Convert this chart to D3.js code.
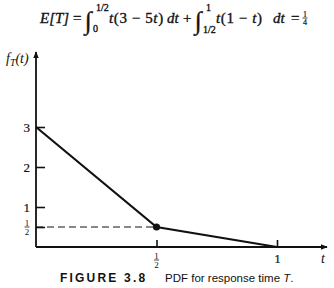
<!DOCTYPE html>
<html>
<head>
<meta charset="utf-8">
<script src="https://cdn.jsdelivr.net/npm/d3@7"></script>
<style>
  body { margin: 0; background: #fff; }
  svg { display: block; }
  .axis path, .axis line { stroke: #111; stroke-width: 1.6; }
</style>
</head>
<body>
<svg id="chart" width="334" height="288"></svg>
<script>
// pdf vertices (t, f_T(t))
var pdfPoints = [
  {t: 0, f: 3},
  {t: 0.5, f: 0.5},
  {t: 1, f: 0}
];
var markedPoint = {t: 0.5, f: 0.5};
var yTicks = [0.5, 1, 2, 3];
var xTicks = [0.5, 1];

var serif = "'Liberation Serif', 'Times New Roman', 'DejaVu Serif', serif";
var svg = d3.select("#chart");

var x = d3.scaleLinear().domain([0, 1]).range([36, 277]),
    y = d3.scaleLinear().domain([0, 3]).range([247, 127]);

// axes (ticks point inward)
var xAxis = svg.append("g")
    .attr("class", "axis")
    .attr("transform", "translate(0," + y(0) + ")")
    .call(d3.axisBottom(x).tickValues(xTicks).tickSize(-7).tickSizeOuter(0).tickPadding(7)
      .tickFormat(function(d) { return d === 1 ? "1" : ""; }))
    .attr("font-family", serif).attr("font-size", 13);
xAxis.select(".domain").remove();

var yAxis = svg.append("g")
    .attr("class", "axis")
    .attr("transform", "translate(" + x(0) + ",0)")
    .call(d3.axisLeft(y).tickValues(yTicks).tickSize(-9).tickSizeOuter(0).tickPadding(6)
      .tickFormat(function(d) { return d === 0.5 ? "" : d; }))
    .attr("font-family", serif).attr("font-size", 13);
yAxis.select(".domain").remove();
svg.selectAll(".axis text").attr("fill", "#111").attr("stroke", "#111").attr("stroke-width", 0.2);

// stacked one-half labels
function half(g, cx, cy, s) {
  var h = g.append("g").attr("transform", "translate(" + cx + "," + cy + ")")
    .attr("font-family", serif).attr("font-size", s).attr("fill", "#111")
    .attr("text-anchor", "middle");
  h.append("text").attr("y", -1).text("1");
  h.append("line").attr("x1", -2.5).attr("x2", 2.5).attr("y1", 0).attr("y2", 0)
    .attr("stroke", "#111").attr("stroke-width", 0.8);
  h.append("text").attr("y", s - 1).text("2");
}
half(svg, x(0) - 9, y(0.5), 9);
half(svg, x(0.5), y(0) + 13, 9);

// axis lines with arrowheads
svg.append("defs").append("marker")
    .attr("id", "arrow")
    .attr("viewBox", "0 0 10 10")
    .attr("refX", 9).attr("refY", 5)
    .attr("markerWidth", 7).attr("markerHeight", 7)
    .attr("markerUnits", "userSpaceOnUse")
    .attr("orient", "auto")
  .append("path")
    .attr("d", "M0,1L10,5L0,9Z")
    .attr("fill", "#111");

svg.append("line")
    .attr("x1", x(0)).attr("y1", y(0))
    .attr("x2", 327).attr("y2", y(0))
    .attr("stroke", "#111").attr("stroke-width", 1.8)
    .attr("marker-end", "url(#arrow)");

svg.append("line")
    .attr("x1", x(0)).attr("y1", y(0))
    .attr("x2", x(0)).attr("y2", 52)
    .attr("stroke", "#111").attr("stroke-width", 1.8)
    .attr("marker-end", "url(#arrow)");

// dashed guide at f = 1/2
svg.append("line")
    .attr("x1", x(0)).attr("y1", y(markedPoint.f))
    .attr("x2", x(markedPoint.t)).attr("y2", y(markedPoint.f))
    .attr("stroke", "#111").attr("stroke-width", 1)
    .attr("stroke-dasharray", "7,4");

// pdf
var line = d3.line()
    .x(function(d) { return x(d.t); })
    .y(function(d) { return y(d.f); });

svg.append("path")
    .datum(pdfPoints)
    .attr("fill", "none")
    .attr("stroke", "#111")
    .attr("stroke-width", 2.2)
    .attr("d", line);

svg.append("circle")
    .attr("cx", x(markedPoint.t))
    .attr("cy", y(markedPoint.f))
    .attr("r", 3.6)
    .attr("fill", "#111");

// axis labels
var fl = svg.append("text").attr("font-family", serif).attr("font-style", "italic")
    .attr("fill", "#111").attr("x", 6).attr("y", 63).attr("font-size", 14);
fl.append("tspan").text("f");
fl.append("tspan").attr("font-size", 10).attr("dy", 3).text("T");
fl.append("tspan").attr("dy", -3).text("(t)");

svg.append("text").attr("font-family", serif).attr("font-style", "italic")
    .attr("fill", "#111").attr("x", 321).attr("y", 263).attr("font-size", 14).text("t");

// formula E[T] = ...
var m = svg.append("g").attr("font-family", serif).attr("fill", "#111")
    .attr("stroke", "#111").attr("stroke-width", 0.35);
function mt(xp, yp, s, txt, it) {
  return m.append("text").attr("x", xp).attr("y", yp)
    .attr("font-size", s).attr("font-style", it ? "italic" : null).text(txt);
}
function prod(xp, parts) {
  var tx = mt(xp, 23, 15, "", true).attr("letter-spacing", 0.6);
  parts.forEach(function(p, i) {
    tx.append("tspan").attr("font-style", i % 2 ? "normal" : "italic").text(p);
  });
}
mt(40, 23, 15, "E[T]", true);
mt(73, 23, 15, "=");
mt(85, 29, 25, "\u222B");
mt(96, 11, 10, "1/2");
mt(93, 32, 10, "0");
prod(109, ["t", "(3 \u2212 5", "t", ")"]);
mt(167, 23, 15, "dt", true);
mt(183, 23, 15, "+");
mt(195, 29, 25, "\u222B");
mt(206, 11, 10, "1");
mt(203, 33, 10, "1/2");
prod(216, ["t", "(1 \u2212 ", "t", ")"]);
mt(273, 23, 15, "dt", true);
mt(291, 23, 15, "=");
var q = m.append("g").attr("transform", "translate(305,18)").attr("text-anchor", "middle")
    .attr("font-size", 8).attr("stroke-width", 0.2);
q.append("text").attr("y", -1).text("1");
q.append("line").attr("x1", -2.5).attr("x2", 2.5).attr("stroke", "#111").attr("stroke-width", 0.8);
q.append("text").attr("y", 7).text("4");

// caption
var sans = "'Liberation Sans', Arial, Helvetica, sans-serif";
svg.append("text")
    .attr("x", 60).attr("y", 282)
    .attr("font-family", sans).attr("font-weight", "bold")
    .attr("font-size", 12).attr("letter-spacing", 2.2).attr("fill", "#111")
    .text("FIGURE 3.8");
var cap = svg.append("text")
    .attr("x", 165).attr("y", 282)
    .attr("font-family", sans).attr("font-size", 11.5).attr("fill", "#111");
cap.append("tspan").text("PDF for response time ");
cap.append("tspan").attr("font-style", "italic").text("T");
cap.append("tspan").text(".");
</script>
</body>
</html>
